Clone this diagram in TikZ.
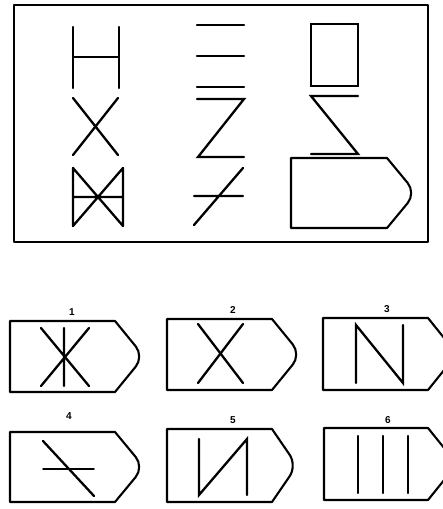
\documentclass[tikz,border=0pt]{standalone}
\usepackage{fontspec}
\setmainfont{Liberation Sans}
\begin{document}
\begin{tikzpicture}[x=1pt,y=-1pt,
  fig/.style={line width=2.3pt,line cap=round},
  frame/.style={line width=2.1pt,line join=round},
  lbl/.style={font=\bfseries\fontsize{10}{10}\selectfont,inner sep=0pt}]
\useasboundingbox (0,0) rectangle (443,509);
\clip (0,0) rectangle (443,509);
% tag shape: left x, top y, corner x, tip x, bottom y
\newcommand\tagshape[5]{%
  \draw[frame] (#1,#2) -- (#3,#2) [rounded corners=13pt] -- (#4,{(#2+#5)/2}) [sharp corners] -- (#3,#5) -- (#1,#5) -- cycle;}
% outer frame
\draw[frame] (14,5) rectangle (428,242);
% row 1
\draw[fig] (73,27) -- (73,88) (119,27) -- (119,88) (73,57) -- (119,57);
\draw[fig] (197,25) -- (244,25) (197,56) -- (244,56) (197,87) -- (244,87);
\draw[fig,line cap=butt] (311,24) rectangle (358,86);
% row 2
\draw[fig] (73,98) -- (118,155) (118,98) -- (73,155);
\draw[fig,line join=miter] (197,99) -- (244,99) -- (198,157) -- (244,157);
\draw[fig,line join=miter] (358,96) -- (311,96) -- (358,154) -- (311,154);
% row 3
\draw[fig] (73,168) -- (73,226) (123,168) -- (123,226) (73,168) -- (123,226) (123,168) -- (73,226) (73,197) -- (123,197);
\draw[fig] (194,225) -- (243,168) (194,196) -- (243,196);
\tagshape{291}{158}{387}{416}{228}
% answers
\tagshape{10}{321}{115}{144}{392}
\node[lbl] at (72,312) {1};
\draw[fig] (64,328) -- (64,386) (41,328) -- (89,386) (89,328) -- (41,386);
\tagshape{167}{319}{272}{301}{390}
\node[lbl] at (233,310) {2};
\draw[fig] (198,324) -- (243,383) (243,324) -- (198,383);
\tagshape{323}{318}{428}{457}{390}
\node[lbl] at (387,309) {3};
\draw[fig,line join=miter] (356,383) -- (356,325) -- (403,383) -- (403,325);
\tagshape{10}{432}{115}{144}{502}
\node[lbl] at (69,416) {4};
\draw[fig,line width=1.5pt] (43,469) -- (94,469);
\draw[fig] (43,441) -- (94,496);
\tagshape{167}{429}{272}{297}{502}
\node[lbl] at (233,420) {5};
\draw[fig,line join=miter] (199,439) -- (199,495) -- (247,439) -- (247,495);
\tagshape{324}{428}{428}{457}{500}
\node[lbl] at (388,420) {6};
\draw[fig] (358,436) -- (358,493) (383,436) -- (383,493) (408,436) -- (408,493);
\end{tikzpicture}
\end{document}
